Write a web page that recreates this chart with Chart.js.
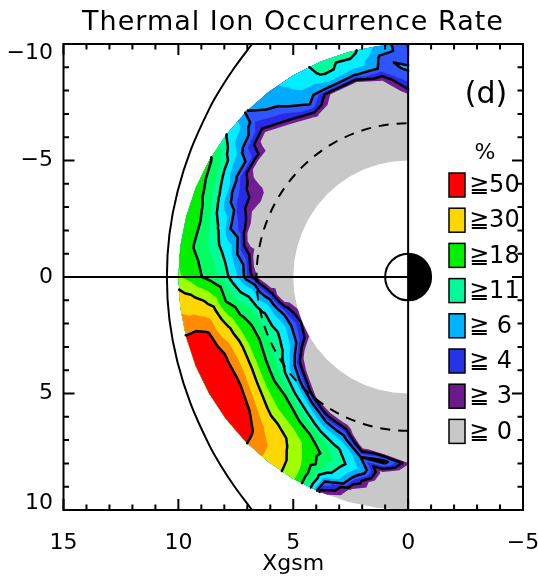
<!DOCTYPE html>
<html>
<head>
<meta charset="utf-8">
<script src="https://cdn.jsdelivr.net/npm/chart.js@4.4.1/dist/chart.umd.min.js"></script>
<style>
  html, body { margin: 0; padding: 0; background: #fff; }
  canvas { display: block; }
</style>
</head>
<body>
<canvas id="occurrenceChart" width="538" height="581"></canvas>
<script>
// polar grid: radial distance (Re) and angle from the Sun line (deg, dusk at top)
const radii = [5, 5.5, 6, 6.5, 7, 7.5, 8, 8.5, 9, 9.5, 10];
const sectorAngles = [-90, -82.5, -75, -67.5, -60, -52.5, -45, -37.5, -30, -22.5, -15, -7.5,
  0, 7.5, 15, 22.5, 30, 37.5, 45, 52.5, 60, 67.5, 75, 82.5, 90];

// occurrence rate (%) per sector, one row per angle, one column per radius
const rate = [
  [0.5, 0.7, 0.9, 1.0, 1.0, 1.0, 3.8, 5.5, 6.2, 5.0, 4.8],    // -90
  [0.5, 0.6, 0.7, 0.8, 0.9, 1.0, 1.2, 3.0, 5.5, 5.8, 7.0],    // -82.5
  [0.5, 0.6, 0.7, 0.8, 0.9, 1.0, 1.2, 1.5, 6.2, 10, 12.5],    // -75
  [0.5, 0.6, 0.7, 0.8, 0.9, 1.0, 1.3, 2.5, 7.5, 11.5, 12],    // -67.5
  [0.5, 0.6, 0.7, 0.8, 1.0, 1.3, 3.2, 5.8, 7.5, 8.5, 9.5],    // -60
  [0.5, 0.6, 0.7, 0.8, 0.9, 1.0, 1.5, 4.0, 5.4, 6.6, 7.0],    // -52.5
  [0.5, 0.6, 0.7, 0.8, 0.9, 1.0, 1.2, 1.5, 4.0, 5.2, 5.9],    // -45
  [0.5, 0.6, 0.7, 0.8, 0.9, 1.0, 1.5, 4.8, 5.6, 8.0, 11.2],   // -37.5
  [0.5, 0.6, 0.7, 1.0, 2.6, 3.4, 3.8, 5.2, 8.5, 14, 19],      // -30
  [0.5, 0.6, 0.7, 1.0, 1.5, 3.6, 4.7, 6.5, 11.8, 17, 21],     // -22.5
  [0.5, 0.6, 0.8, 1.0, 1.5, 4.6, 6.0, 10.5, 14.5, 19.5, 22],  // -15
  [0.5, 0.6, 0.8, 1.2, 4.2, 6.0, 10, 13, 15.5, 18.5, 22],     // -7.5
  [0.5, 0.6, 0.8, 2.7, 5.0, 8.5, 12.5, 15.5, 18.2, 22, 25],   // 0
  [0.8, 1.5, 4.5, 7, 11.5, 14, 18, 27, 32, 35, 37],           // 7.5
  [2.8, 4.6, 7.5, 12, 16, 20, 28, 36, 49.5, 52, 51],          // 15
  [3.8, 6, 10, 13.5, 18, 24, 34, 47, 58, 62, 60],             // 22.5
  [3.2, 5.2, 8.5, 12.5, 16, 23, 33, 48, 57, 62, 58],          // 30
  [0.8, 1.8, 4.3, 8, 14, 20, 28, 40, 54, 58, 56],             // 37.5
  [0.6, 0.9, 2.2, 5.5, 11, 19, 24, 31, 41, 49.5, 51],         // 45
  [0.5, 0.6, 0.9, 2.6, 7.5, 14, 21, 28.5, 32, 35, 36],        // 52.5
  [0.5, 0.5, 0.7, 1.5, 4.5, 9, 16.5, 21, 23, 24.5, 25],       // 60
  [0.5, 0.5, 0.6, 1.2, 3.6, 7, 11.5, 14, 12, 6, 3.5],         // 67.5
  [0.5, 0.5, 0.5, 0.6, 0.9, 2.0, 6, 8, 5, 2.6, 1.5],          // 75
  [0.5, 0.5, 0.5, 0.5, 0.6, 1.0, 6.5, 2.5, 1.2, 0.8, 0.6],    // 82.5
  [0.5, 0.5, 0.5, 0.5, 0.5, 0.8, 3.2, 1.0, 0.7, 0.6, 0.6]     // 90
];

const levels = [0, 3, 4, 5, 6, 8, 11, 14, 18, 24, 30, 40, 50];
const levelColors = ["#c8c8c8", "#701c92", "#2a2ae6", "#2f55ff", "#00aaff", "#00eeff",
  "#00ff99", "#00ff60", "#00f000", "#a0ff00", "#ffd700", "#ff8c00", "#ff0000"];
const lineLevels = [4, 6, 11, 18, 30, 50];

const legendLabels = ["≧50", "≧30", "≧18", "≧11", "≧ 6", "≧ 4", "≧ 3", "≧ 0"];
const legendColors = ["#ff0000", "#ffd700", "#00f000", "#00fa9a", "#00b4ff", "#2832e6", "#6a1a8a", "#c8c8c8"];

const yTickLabels = [-10, -5, 0, 5, 10];

// model magnetopause
const magnetopauseX = [6.63, 6.9, 7.55, 8.13, 8.64, 9.46, 10.04, 10.39, 10.5, 10.39, 10.04, 9.46, 8.64, 8.13, 7.55, 6.9, 6.63];
const magnetopauseY = [-10.2, -9.86, -9.0, -8.13, -7.25, -5.46, -3.65, -1.83, 0, 1.83, 3.65, 5.46, 7.25, 8.13, 9.0, 9.86, 10.2];

const geoRadius = 6.6;
const earthRadius = 1;

const FONT = "DejaVu Sans";

// grid nodes and triangles
const nodes = sectorAngles.map((a, i) => radii.map((r, j) => {
  const t = a * Math.PI / 180;
  return { x: r * Math.cos(t), y: r * Math.sin(t), v: rate[i][j] };
}));
const triangles = [];
for (let i = 0; i < sectorAngles.length - 1; i++) {
  for (let j = 0; j < radii.length - 1; j++) {
    const a = nodes[i][j], b = nodes[i + 1][j], c = nodes[i + 1][j + 1], d = nodes[i][j + 1];
    triangles.push([a, b, c], [a, c, d]);
  }
}

function clipAbove(tri, L) {
  const out = [];
  for (let k = 0; k < tri.length; k++) {
    const a = tri[k], b = tri[(k + 1) % tri.length];
    const ia = a.v >= L, ib = b.v >= L;
    if (ia) out.push(a);
    if (ia !== ib) {
      const t = (L - a.v) / (b.v - a.v);
      out.push({ x: a.x + t * (b.x - a.x), y: a.y + t * (b.y - a.y), v: L });
    }
  }
  return out;
}

function crossing(tri, L) {
  const pts = [];
  for (let k = 0; k < 3; k++) {
    const a = tri[k], b = tri[(k + 1) % 3];
    if ((a.v < L) !== (b.v < L)) {
      const t = (L - a.v) / (b.v - a.v);
      pts.push({ x: a.x + t * (b.x - a.x), y: a.y + t * (b.y - a.y) });
    }
  }
  return pts.length === 2 ? pts : null;
}

const contourPlugin = {
  id: "contourPlugin",
  beforeDatasetsDraw(chart) {
    const { ctx, chartArea } = chart;
    const xs = chart.scales.x, ys = chart.scales.y;
    const px = v => xs.getPixelForValue(v), py = v => ys.getPixelForValue(v);
    ctx.save();
    ctx.beginPath();
    ctx.rect(chartArea.left, chartArea.top, chartArea.right - chartArea.left, chartArea.bottom - chartArea.top);
    ctx.clip();

    levels.forEach((L, k) => {
      ctx.beginPath();
      triangles.forEach(tri => {
        const poly = clipAbove(tri, L);
        if (poly.length < 3) return;
        ctx.moveTo(px(poly[0].x), py(poly[0].y));
        for (let m = 1; m < poly.length; m++) ctx.lineTo(px(poly[m].x), py(poly[m].y));
        ctx.closePath();
      });
      ctx.fillStyle = levelColors[k];
      ctx.fill();
    });

    ctx.strokeStyle = "#000";
    ctx.lineWidth = 2.5;
    ctx.lineJoin = "round";
    ctx.lineCap = "round";
    lineLevels.forEach(L => {
      ctx.beginPath();
      triangles.forEach(tri => {
        const seg = crossing(tri, L);
        if (!seg) return;
        ctx.moveTo(px(seg[0].x), py(seg[0].y));
        ctx.lineTo(px(seg[1].x), py(seg[1].y));
      });
      ctx.stroke();
    });

    const cx = px(0), cy = py(0);
    const ux = Math.abs(px(1) - cx), uy = Math.abs(py(1) - cy);

    // geosynchronous orbit
    ctx.setLineDash([10, 8]);
    ctx.lineWidth = 2;
    ctx.lineCap = "butt";
    ctx.beginPath();
    ctx.ellipse(cx, cy, geoRadius * ux, geoRadius * uy, 0, Math.PI / 2, 3 * Math.PI / 2);
    ctx.stroke();
    ctx.setLineDash([]);

    // Earth
    const ex = earthRadius * ux, ey = earthRadius * uy;
    ctx.fillStyle = "#fff";
    ctx.beginPath();
    ctx.ellipse(cx, cy, ex, ey, 0, Math.PI / 2, 3 * Math.PI / 2);
    ctx.fill();
    ctx.fillStyle = "#000";
    ctx.beginPath();
    ctx.ellipse(cx, cy, ex, ey, 0, -Math.PI / 2, Math.PI / 2);
    ctx.fill();
    ctx.beginPath();
    ctx.ellipse(cx, cy, ex, ey, 0, 0, 2 * Math.PI);
    ctx.stroke();

    // Sun-Earth line and terminator
    ctx.lineWidth = 2;
    ctx.beginPath();
    ctx.moveTo(px(15), cy);
    ctx.lineTo(cx, cy);
    ctx.moveTo(cx, py(-10));
    ctx.lineTo(cx, py(10));
    ctx.stroke();
    ctx.restore();
  },
  afterDatasetsDraw(chart) {
    const { ctx, chartArea } = chart;
    const xs = chart.scales.x, ys = chart.scales.y;
    const px = v => xs.getPixelForValue(v), py = v => ys.getPixelForValue(v);
    const { left, right, top, bottom } = chartArea;
    ctx.save();
    ctx.strokeStyle = "#000";
    ctx.lineWidth = 2;
    ctx.strokeRect(left, top, right - left, bottom - top);

    ctx.beginPath();
    for (let v = -5; v <= 15; v++) {
      const len = v % 5 === 0 ? 11 : 5.5;
      const x = px(v);
      ctx.moveTo(x, bottom); ctx.lineTo(x, bottom - len);
      ctx.moveTo(x, top); ctx.lineTo(x, top + len);
    }
    for (let v = -10; v <= 10; v++) {
      const len = v % 5 === 0 ? 11 : 5.5;
      const y = py(v);
      ctx.moveTo(left, y); ctx.lineTo(left + len, y);
      ctx.moveTo(right, y); ctx.lineTo(right - len, y);
    }
    ctx.stroke();

    // y tick labels (end labels sit inside the frame as in the original)
    ctx.fillStyle = "#000";
    ctx.font = "22px '" + FONT + "'";
    ctx.textAlign = "right";
    ctx.textBaseline = "middle";
    yTickLabels.forEach(v => {
      let y = py(v);
      if (v === -10) y += 9;
      if (v === 10) y -= 7;
      ctx.fillText(String(v).replace("-", "\u2212"), 53, y);
    });

    // legend
    ctx.textAlign = "center";
    ctx.font = "22px '" + FONT + "'";
    ctx.fillText("%", 485, 153);
    ctx.textAlign = "left";
    ctx.font = "24px '" + FONT + "'";
    legendLabels.forEach((lab, i) => {
      const yc = 185 + i * 35.2;
      ctx.fillStyle = legendColors[i];
      ctx.fillRect(449, yc - 12, 16, 24);
      ctx.lineWidth = 1.5;
      ctx.strokeStyle = "#000";
      ctx.strokeRect(449, yc - 12, 16, 24);
      ctx.fillStyle = "#000";
      ctx.fillText(lab, 469, yc + 1);
    });

    ctx.font = "30px '" + FONT + "'";
    ctx.textAlign = "center";
    ctx.fillText("(d)", 486, 95);

    ctx.font = "27px '" + FONT + "'";
    ctx.letterSpacing = "1px";
    ctx.fillText("Thermal Ion Occurrence Rate", 293, 23);
    ctx.restore();
  }
};

new Chart(document.getElementById("occurrenceChart"), {
  type: "scatter",
  data: {
    datasets: [{
      label: "Magnetopause",
      data: magnetopauseX.map((x, i) => ({ x: x, y: magnetopauseY[i] })),
      showLine: true,
      borderColor: "#000",
      borderWidth: 2,
      pointRadius: 0,
      fill: false,
      tension: 0.3
    }]
  },
  options: {
    responsive: false,
    animation: false,
    devicePixelRatio: 1,
    layout: { padding: { top: 44, right: 15, left: 0, bottom: 0 } },
    plugins: { legend: { display: false }, tooltip: { enabled: false } },
    scales: {
      x: {
        type: "linear",
        min: -5,
        max: 15,
        reverse: true,
        grid: { display: false, drawTicks: false },
        border: { display: false },
        ticks: {
          stepSize: 5,
          padding: 20,
          color: "#000",
          font: { family: FONT, size: 22 },
          maxRotation: 0,
          callback: v => String(v).replace("-", "\u2212")
        },
        title: { display: true, text: "Xgsm", color: "#000", font: { family: FONT, size: 22 }, padding: { top: 0, bottom: 4 } },
        afterFit(scale) {
          scale.height = 71;
          scale.paddingLeft = 0;
          scale.paddingRight = 0;
        }
      },
      y: {
        type: "linear",
        min: -10,
        max: 10,
        reverse: true,
        grid: { display: false, drawTicks: false },
        border: { display: false },
        ticks: { display: false },
        afterFit(scale) { scale.width = 63.5; }
      }
    }
  },
  plugins: [contourPlugin]
});
</script>
</body>
</html>
